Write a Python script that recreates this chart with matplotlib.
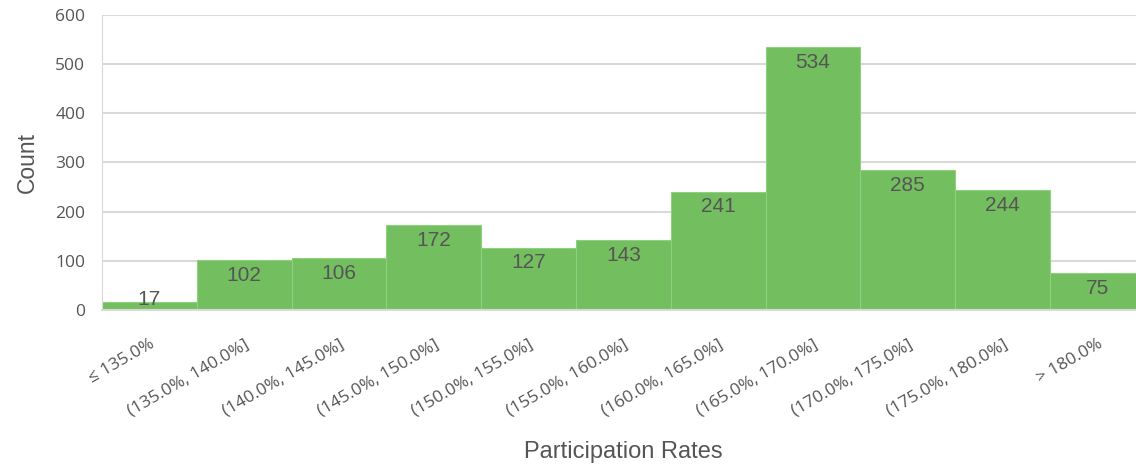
import numpy as np
import matplotlib.pyplot as plt

# participation rate bins and counts
binLabels = ['≤ 135.0%', '(135.0%, 140.0%]', '(140.0%, 145.0%]', '(145.0%, 150.0%]',
             '(150.0%, 155.0%]', '(155.0%, 160.0%]', '(160.0%, 165.0%]', '(165.0%, 170.0%]',
             '(170.0%, 175.0%]', '(175.0%, 180.0%]', '> 180.0%']
counts = [17, 102, 106, 172, 127, 143, 241, 534, 285, 244, 75]

textColor = '#555555'
gridColor = '#d9d9d9'
barColor = '#73bf60'

fig = plt.figure(figsize=(11.36, 4.68), dpi=100)
# last bin runs a little past the right edge of the figure
ax = fig.add_axes([0.0898, 0.3376, 0.918, 0.6304])

x = np.arange(len(counts))
ax.bar(x, counts, width=1.0, color=barColor, edgecolor='#8fd07f', linewidth=0.8, zorder=2)

# count labels just inside the top of each bar
for xi, v in zip(x, counts):
    ax.text(xi, max(v - 12, 40), str(v), ha='center', va='top', fontsize=15,
            color=textColor, family='Liberation Sans', zorder=3)

ax.set_xlim(-0.5, len(counts) - 0.5)
ax.set_ylim(0, 600)
ax.set_yticks(range(0, 601, 100))
ax.grid(axis='y', color=gridColor, linewidth=1.5, zorder=0)

for side in ['top', 'right']:
    ax.spines[side].set_visible(False)
ax.spines['left'].set_color(gridColor)
ax.spines['bottom'].set_color(gridColor)
ax.spines['bottom'].set_linewidth(1.5)

# nudge the rotated labels so their right end sits just past the bar centre
ax.set_xticks(x + 0.04)
ax.set_xticklabels(binLabels, rotation=30, ha='right', va='center', rotation_mode='anchor',
                   fontsize=12.5, color=textColor, family='Open Sans')
ax.tick_params(axis='x', length=0, pad=24)
ax.tick_params(axis='y', length=0, pad=12, labelsize=12.5, labelcolor=textColor)
for lbl in ax.get_yticklabels():
    lbl.set_family('Open Sans')

ax.set_ylabel('Count', fontsize=16.5, color=textColor, family='Liberation Sans', labelpad=12)
ax.set_xlabel('Participation Rates', fontsize=17, color=textColor, family='Liberation Sans', labelpad=16)

fig.savefig('out.png', dpi=100)
